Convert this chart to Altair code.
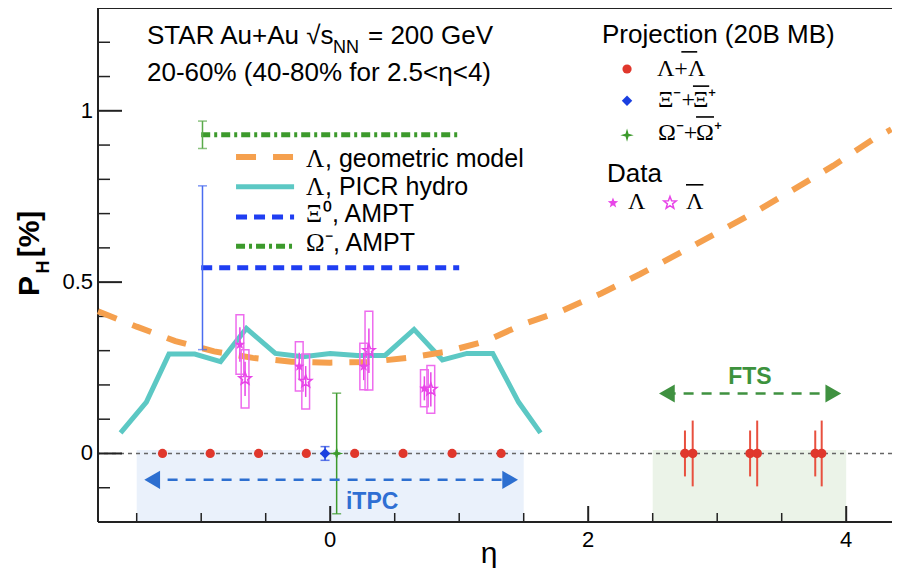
import math
import altair as alt
import pandas as pd

SANS = "Liberation Sans"
SERIF = "Liberation Serif"
PLOT_W, PLOT_H = 794, 514

X_DOMAIN = [-1.8, 4.355]
Y_DOMAIN = [-0.2, 1.3]

# ---------------- data ----------------
# PICR hydro (Lambda)
picr_eta = [-1.625, -1.425, -1.25, -1.05, -0.85, -0.65, -0.425, -0.21, 0.0, 0.21, 0.425, 0.65, 0.87, 1.06, 1.26, 1.46, 1.63]
picr_p = [0.06, 0.15, 0.29, 0.29, 0.268, 0.365, 0.292, 0.282, 0.292, 0.286, 0.286, 0.362, 0.273, 0.292, 0.292, 0.15, 0.06]

# geometric model (Lambda)
geo_eta = [-1.8, -1.5, -1.2, -0.9, -0.6, -0.3, 0.0, 0.3, 0.6, 0.9, 1.2, 1.5, 1.8, 2.1, 2.4, 2.7, 3.0, 3.3, 3.6, 3.9, 4.2, 4.35]
geo_p = [0.415, 0.37, 0.328, 0.298, 0.279, 0.268, 0.265, 0.267, 0.279, 0.297, 0.327, 0.378, 0.417, 0.467, 0.523, 0.583, 0.644, 0.706, 0.772, 0.840, 0.915, 0.946]

# AMPT
xi_ampt_range = [-1.0, 1.0]
xi_ampt_p, xi_ampt_lo, xi_ampt_hi = 0.542, 0.303, 0.781
om_ampt_range = [-1.0, 1.0]
om_ampt_p, om_ampt_lo, om_ampt_hi = 0.930, 0.890, 0.970
ampt_err_eta = -0.99

# STAR data
lam_eta = [-0.70, -0.24, 0.26, 0.73]
lam_p = [0.318, 0.254, 0.254, 0.190]
lam_sys = [0.087, 0.072, 0.068, 0.054]
lam_stat = [0.05, 0.04, 0.04, 0.035]
alam_eta = [-0.66, -0.19, 0.30, 0.78]
alam_p = [0.218, 0.210, 0.300, 0.187]
alam_sys = [0.085, 0.080, 0.115, 0.070]
alam_stat = [0.05, 0.045, 0.065, 0.05]
box_half = 0.03

# projections
proj_lam_eta = [-1.30, -0.93, -0.555, -0.185, 0.19, 0.565, 0.945, 1.325]
proj_lam_p = [0, 0, 0, 0, 0, 0, 0, 0]
proj_xi_eta, proj_xi_p, proj_xi_err = -0.04, 0.0, 0.02
proj_om_eta, proj_om_p, proj_om_err = 0.05, 0.0, 0.176
fts_a_eta = [2.75, 3.255, 3.76]
fts_a_err = [0.067, 0.067, 0.067]
fts_b_eta = [2.81, 3.31, 3.81]
fts_b_err = [0.096, 0.096, 0.096]

# acceptance regions
region_lo = [-1.5, 2.5]
region_hi = [1.5, 4.0]
region_top = [0.01, 0.01]
region_fill = ["#eaf1fb", "#ebf3e8"]

# ticks
y_major = [0, 0.5, 1.0]
y_minor = [-0.1, 0.1, 0.2, 0.3, 0.4, 0.6, 0.7, 0.8, 0.9, 1.1, 1.2]
x_major = [0, 2, 4]
x_minor = [-1.5, -1.0, -0.5, 0.5, 1.0, 1.5, 2.5, 3.0, 3.5]

xscale = alt.Scale(domain=X_DOMAIN, nice=False, zero=False)
yscale = alt.Scale(domain=Y_DOMAIN, nice=False, zero=False)

# marker shapes (unit-size SVG paths)
_pts = []
for k in range(10):
    r = 1.0 if k % 2 == 0 else 0.42
    a = math.radians(-90 + 36 * k)
    _pts.append(f"{r * math.cos(a):.3f},{r * math.sin(a):.3f}")
STAR5 = "M" + "L".join(_pts) + "Z"
STAR4 = "M0,-1L0.22,-0.22L1,0L0.22,0.22L0,1L-0.22,0.22L-1,0L-0.22,-0.22Z"


def X(f, **kw):
    return alt.X(f"{f}:Q", scale=xscale, axis=None, **kw)


def Y(f, **kw):
    return alt.Y(f"{f}:Q", scale=yscale, axis=None, **kw)


layers = []

# shaded regions
reg = pd.DataFrame({"lo": region_lo, "hi": region_hi, "top": region_top,
                    "bot": [Y_DOMAIN[0]] * 2, "fill": region_fill})
layers.append(alt.Chart(reg).mark_rect().encode(
    x=X("lo"), x2="hi:Q", y=Y("top"), y2="bot:Q",
    color=alt.Color("fill:N", scale=None)))

# zero line
layers.append(alt.Chart(pd.DataFrame({"z": [0.0]})).mark_rule(
    color="#666", strokeDash=[4, 4], strokeWidth=1.5).encode(y=Y("z")))

# frame: axis lines + inward ticks
layers.append(alt.Chart(pd.DataFrame({"v": y_major})).mark_rule(color="#222", strokeWidth=2).encode(
    y=Y("v"), x=alt.value(0), x2=alt.value(24)))
layers.append(alt.Chart(pd.DataFrame({"v": y_minor})).mark_rule(color="#222", strokeWidth=1.5).encode(
    y=Y("v"), x=alt.value(0), x2=alt.value(12)))
layers.append(alt.Chart(pd.DataFrame({"v": x_major})).mark_rule(color="#222", strokeWidth=2).encode(
    x=X("v"), y=alt.value(PLOT_H), y2=alt.value(PLOT_H - 16)))
layers.append(alt.Chart(pd.DataFrame({"v": x_minor})).mark_rule(color="#222", strokeWidth=1.5).encode(
    x=X("v"), y=alt.value(PLOT_H), y2=alt.value(PLOT_H - 9)))
frame = pd.DataFrame({"z": [0]})
layers.append(alt.Chart(frame).mark_rule(color="#222", strokeWidth=2).encode(
    y=alt.value(0), x=alt.value(0), x2=alt.value(PLOT_W)))
layers.append(alt.Chart(frame).mark_rule(color="#222", strokeWidth=2).encode(
    y=alt.value(PLOT_H), x=alt.value(0), x2=alt.value(PLOT_W)))
layers.append(alt.Chart(frame).mark_rule(color="#222", strokeWidth=2).encode(
    x=alt.value(0), y=alt.value(0), y2=alt.value(PLOT_H)))

# tick labels
lab_font = dict(font=SANS, fontSize=22, color="#000")
layers.append(alt.Chart(pd.DataFrame({"v": y_major, "t": ["0", "0.5", "1"]})).mark_text(
    align="right", baseline="middle", dx=-5, **lab_font).encode(
    y=Y("v"), x=alt.value(0), text="t:N"))
layers.append(alt.Chart(pd.DataFrame({"v": x_major, "t": ["0", "2", "4"]})).mark_text(
    align="center", baseline="top", dy=8, **lab_font).encode(
    x=X("v"), y=alt.value(PLOT_H), text="t:N"))

# model curves
layers.append(alt.Chart(pd.DataFrame({"eta": picr_eta, "p": picr_p})).mark_line(
    color="#5cc8c4", strokeWidth=5).encode(x=X("eta"), y=Y("p")))
layers.append(alt.Chart(pd.DataFrame({"eta": geo_eta, "p": geo_p})).mark_line(
    color="#f5a04e", strokeWidth=6, strokeDash=[20, 17]).encode(x=X("eta"), y=Y("p")))

# AMPT lines + error bars
xi_col, om_col = "#1f3ef2", "#3c9a2c"
layers.append(alt.Chart(pd.DataFrame({"lo": [xi_ampt_range[0]], "hi": [xi_ampt_range[1]], "p": [xi_ampt_p]})).mark_rule(
    color=xi_col, strokeWidth=5, strokeDash=[11, 7]).encode(x=X("lo"), x2="hi:Q", y=Y("p")))
layers.append(alt.Chart(pd.DataFrame({"lo": [om_ampt_range[0]], "hi": [om_ampt_range[1]], "p": [om_ampt_p]})).mark_rule(
    color=om_col, strokeWidth=5, strokeDash=[9, 4, 3, 4]).encode(x=X("lo"), x2="hi:Q", y=Y("p")))
ampt_err = pd.DataFrame({"eta": [ampt_err_eta, ampt_err_eta], "lo": [xi_ampt_lo, om_ampt_lo],
                         "hi": [xi_ampt_hi, om_ampt_hi], "c": ["#4a6cf0", "#5aaa4a"]})
layers.append(alt.Chart(ampt_err).mark_rule(strokeWidth=1.5).encode(
    x=X("eta"), y=Y("lo"), y2="hi:Q", color=alt.Color("c:N", scale=None)))
ampt_caps = pd.DataFrame({"eta": [ampt_err_eta] * 4, "p": [xi_ampt_lo, xi_ampt_hi, om_ampt_lo, om_ampt_hi],
                          "c": ["#4a6cf0", "#4a6cf0", "#5aaa4a", "#5aaa4a"]})
layers.append(alt.Chart(ampt_caps).mark_tick(orient="horizontal", size=9, thickness=1.5).encode(
    x=X("eta"), y=Y("p"), color=alt.Color("c:N", scale=None)))

# projections in iTPC
layers.append(alt.Chart(pd.DataFrame({"eta": proj_lam_eta, "p": proj_lam_p})).mark_circle(
    size=85, color="#e0372c", opacity=1).encode(x=X("eta"), y=Y("p")))
perr = pd.DataFrame({"eta": [proj_xi_eta, proj_om_eta], "lo": [proj_xi_p - proj_xi_err, proj_om_p - proj_om_err],
                     "hi": [proj_xi_p + proj_xi_err, proj_om_p + proj_om_err], "c": ["#1a3fe0", "#3c9a2c"]})
layers.append(alt.Chart(perr).mark_rule(strokeWidth=1.5).encode(
    x=X("eta"), y=Y("lo"), y2="hi:Q", color=alt.Color("c:N", scale=None)))
pcaps = pd.DataFrame({"eta": [proj_xi_eta, proj_xi_eta, proj_om_eta, proj_om_eta],
                      "p": [proj_xi_p - proj_xi_err, proj_xi_p + proj_xi_err, proj_om_p - proj_om_err, proj_om_p + proj_om_err],
                      "c": ["#1a3fe0", "#1a3fe0", "#3c9a2c", "#3c9a2c"]})
layers.append(alt.Chart(pcaps).mark_tick(orient="horizontal", size=9, thickness=1.5).encode(
    x=X("eta"), y=Y("p"), color=alt.Color("c:N", scale=None)))
layers.append(alt.Chart(pd.DataFrame({"eta": [proj_xi_eta], "p": [proj_xi_p]})).mark_point(
    shape="diamond", filled=True, size=110, color="#1a3fe0", opacity=1).encode(x=X("eta"), y=Y("p")))
layers.append(alt.Chart(pd.DataFrame({"eta": [proj_om_eta], "p": [proj_om_p]})).mark_point(
    shape=STAR4, filled=True, size=180, color="#3c9a2c", opacity=1).encode(x=X("eta"), y=Y("p")))

# FTS projections
fts = pd.DataFrame({"eta": fts_a_eta + fts_b_eta, "err": fts_a_err + fts_b_err})
layers.append(alt.Chart(fts).transform_calculate(lo="-datum.err", hi="datum.err").mark_rule(
    color="#e8503f", strokeWidth=2).encode(x=X("eta"), y=Y("lo"), y2="hi:Q"))
layers.append(alt.Chart(fts).transform_calculate(p="0").mark_circle(
    size=90, color="#e0372c", opacity=1).encode(x=X("eta"), y=Y("p")))

# arrows
arrow_df = pd.DataFrame({"lo": [-1.40, 2.60], "hi": [1.42, 3.92], "p": [-0.077, 0.175],
                         "c": ["#2d6fd0", "#3f9140"]})
layers.append(alt.Chart(arrow_df).mark_rule(strokeWidth=2.5, strokeDash=[10, 8]).encode(
    x=X("lo"), x2="hi:Q", y=Y("p"), color=alt.Color("c:N", scale=None)))
layers.append(alt.Chart(pd.DataFrame({"eta": [-1.38, 2.61], "p": [-0.077, 0.175], "c": ["#2d6fd0", "#3f9140"]})).mark_point(
    shape="triangle-left", filled=True, size=330, opacity=1).encode(
    x=X("eta"), y=Y("p"), color=alt.Color("c:N", scale=None)))
layers.append(alt.Chart(pd.DataFrame({"eta": [1.395, 3.90], "p": [-0.077, 0.175], "c": ["#2d6fd0", "#3f9140"]})).mark_point(
    shape="triangle-right", filled=True, size=330, opacity=1).encode(
    x=X("eta"), y=Y("p"), color=alt.Color("c:N", scale=None)))

# STAR data: sys boxes, stat bars, stars
MAG, MAG_BOX = "#e845e8", "#ee6cee"
dl = pd.DataFrame({"eta": lam_eta, "p": lam_p, "sys": lam_sys, "stat": lam_stat})
da = pd.DataFrame({"eta": alam_eta, "p": alam_p, "sys": alam_sys, "stat": alam_stat})
for d in (dl, da):
    layers.append(alt.Chart(d).transform_calculate(
        x1=f"datum.eta - {box_half}", x2=f"datum.eta + {box_half}",
        y1="datum.p - datum.sys", y2="datum.p + datum.sys").mark_rect(
        fillOpacity=0, stroke=MAG_BOX, strokeWidth=1.5).encode(
        x=X("x1"), x2="x2:Q", y=Y("y1"), y2="y2:Q"))
    layers.append(alt.Chart(d).transform_calculate(
        y1="datum.p - datum.stat", y2="datum.p + datum.stat").mark_rule(
        color=MAG, strokeWidth=1.5).encode(x=X("eta"), y=Y("y1"), y2="y2:Q"))
layers.append(alt.Chart(dl).mark_point(shape=STAR5, filled=True, size=120, color=MAG, opacity=1).encode(
    x=X("eta"), y=Y("p")))
layers.append(alt.Chart(da).mark_point(shape=STAR5, filled=False, size=170, color=MAG, strokeWidth=1.5, opacity=1).encode(
    x=X("eta"), y=Y("p")))

# ---------------- legends / annotations ----------------
leg_lo, leg_hi = -0.73, -0.28
layers.append(alt.Chart(pd.DataFrame({"lo": [leg_lo], "hi": [leg_hi], "p": [0.865]})).mark_rule(
    color="#f5a04e", strokeWidth=6, strokeDash=[20, 17]).encode(x=X("lo"), x2="hi:Q", y=Y("p")))
layers.append(alt.Chart(pd.DataFrame({"lo": [leg_lo], "hi": [leg_hi], "p": [0.778]})).mark_rule(
    color="#5cc8c4", strokeWidth=5).encode(x=X("lo"), x2="hi:Q", y=Y("p")))
layers.append(alt.Chart(pd.DataFrame({"lo": [leg_lo], "hi": [leg_hi], "p": [0.690]})).mark_rule(
    color=xi_col, strokeWidth=5, strokeDash=[11, 7]).encode(x=X("lo"), x2="hi:Q", y=Y("p")))
layers.append(alt.Chart(pd.DataFrame({"lo": [leg_lo], "hi": [leg_hi], "p": [0.605]})).mark_rule(
    color=om_col, strokeWidth=5, strokeDash=[9, 4, 3, 4]).encode(x=X("lo"), x2="hi:Q", y=Y("p")))

# right legend markers
layers.append(alt.Chart(pd.DataFrame({"eta": [2.301], "p": [1.122]})).mark_circle(
    size=85, color="#e0372c", opacity=1).encode(x=X("eta"), y=Y("p")))
layers.append(alt.Chart(pd.DataFrame({"eta": [2.301], "p": [1.029]})).mark_point(
    shape="diamond", filled=True, size=110, color="#1a3fe0", opacity=1).encode(x=X("eta"), y=Y("p")))
layers.append(alt.Chart(pd.DataFrame({"eta": [2.301], "p": [0.929]})).mark_point(
    shape=STAR4, filled=True, size=180, color="#3c9a2c", opacity=1).encode(x=X("eta"), y=Y("p")))
layers.append(alt.Chart(pd.DataFrame({"eta": [2.192], "p": [0.731]})).mark_point(
    shape=STAR5, filled=True, size=120, color=MAG, opacity=1).encode(x=X("eta"), y=Y("p")))
layers.append(alt.Chart(pd.DataFrame({"eta": [2.634], "p": [0.731]})).mark_point(
    shape=STAR5, filled=False, size=170, color=MAG, strokeWidth=1.5, opacity=1).encode(x=X("eta"), y=Y("p")))

# overbars of the antiparticle symbols
bars = pd.DataFrame({"lo": [2.722, 2.812, 2.836, 2.758], "hi": [2.845, 2.938, 2.975, 2.893],
                     "p": [1.172, 1.072, 0.982, 0.784]})
layers.append(alt.Chart(bars).mark_rule(color="#000", strokeWidth=1.6).encode(
    x=X("lo"), x2="hi:Q", y=Y("p")))


def texts(rows, **kw):
    df = pd.DataFrame(rows, columns=["t", "eta", "p"])
    return alt.Chart(df).mark_text(**kw).encode(x=X("eta"), y=Y("p"), text="t:N")


layers.append(texts([
    ("STAR Au+Au √s", -1.420, 1.195),
    ("= 200 GeV", 0.293, 1.195),
    ("20-60% (40-80% for 2.5<η<4)", -1.420, 1.087),
    ("Projection (20B MB)", 2.107, 1.198),
    ("Data", 2.146, 0.792),
], font=SANS, fontSize=26, align="left", baseline="alphabetic", color="#000"))
layers.append(texts([
    (", geometric model", -0.040, 0.836),
    (", PICR hydro", -0.040, 0.754),
    ("⁰, AMPT", -0.056, 0.676),
    ("⁻, AMPT", -0.040, 0.591),
], font=SANS, fontSize=25, align="left", baseline="alphabetic", color="#000"))
layers.append(texts([("NN", 0.022, 1.169)], font=SANS, fontSize=18, align="left",
                    baseline="alphabetic", color="#000"))
layers.append(texts([
    ("Λ", -0.188, 0.836), ("Λ", -0.188, 0.754), ("Ξ", -0.188, 0.676), ("Ω", -0.188, 0.591),
], font=SERIF, fontSize=25, align="left", baseline="alphabetic", color="#000"))
layers.append(texts([
    ("Λ+Λ", 2.533, 1.102),
    ("Ξ\u207B+", 2.541, 1.011), ("Ξ\u207A", 2.812, 1.011),
    ("Ω\u207B+", 2.541, 0.915), ("Ω\u207A", 2.836, 0.915),
    ("Λ", 2.308, 0.714), ("Λ", 2.758, 0.714),
], font=SERIF, fontSize=24, align="left", baseline="alphabetic", color="#000"))
layers.append(texts([("iTPC", 0.325, -0.141)], font=SANS, fontSize=23, fontWeight="bold",
                    align="center", baseline="middle", color="#2f6fd3"))
layers.append(texts([("FTS", 3.254, 0.224)], font=SANS, fontSize=23, fontWeight="bold",
                    align="center", baseline="middle", color="#3d923d"))

# axis titles (outside the plot area)
one = pd.DataFrame({"a": [0]})
layers.append(alt.Chart(one).mark_text(font=SANS, fontSize=30, fontWeight="bold", angle=270,
                                       align="center", baseline="middle", color="#000").encode(
    x=alt.value(-68), y=alt.value(278), text=alt.value("P")))
layers.append(alt.Chart(one).mark_text(font=SANS, fontSize=18, fontWeight="bold", angle=270,
                                       align="center", baseline="middle", color="#000").encode(
    x=alt.value(-54), y=alt.value(259), text=alt.value("H")))
layers.append(alt.Chart(one).mark_text(font=SANS, fontSize=30, fontWeight="bold", angle=270,
                                       align="center", baseline="middle", color="#000").encode(
    x=alt.value(-68), y=alt.value(226), text=alt.value("[%]")))
layers.append(alt.Chart(one).mark_text(font=SANS, fontSize=30, align="center", baseline="middle",
                                       color="#000").encode(
    x=alt.value(391), y=alt.value(546), text=alt.value("η")))

chart = alt.layer(*layers).properties(
    width=PLOT_W, height=PLOT_H,
    autosize=alt.AutoSizeParams(type="none"),
    padding={"left": 90, "top": 0, "right": 0, "bottom": 46},
).configure_view(stroke="transparent", strokeWidth=0)

chart.save("out.html", embed_options={"renderer": "svg", "actions": False})
